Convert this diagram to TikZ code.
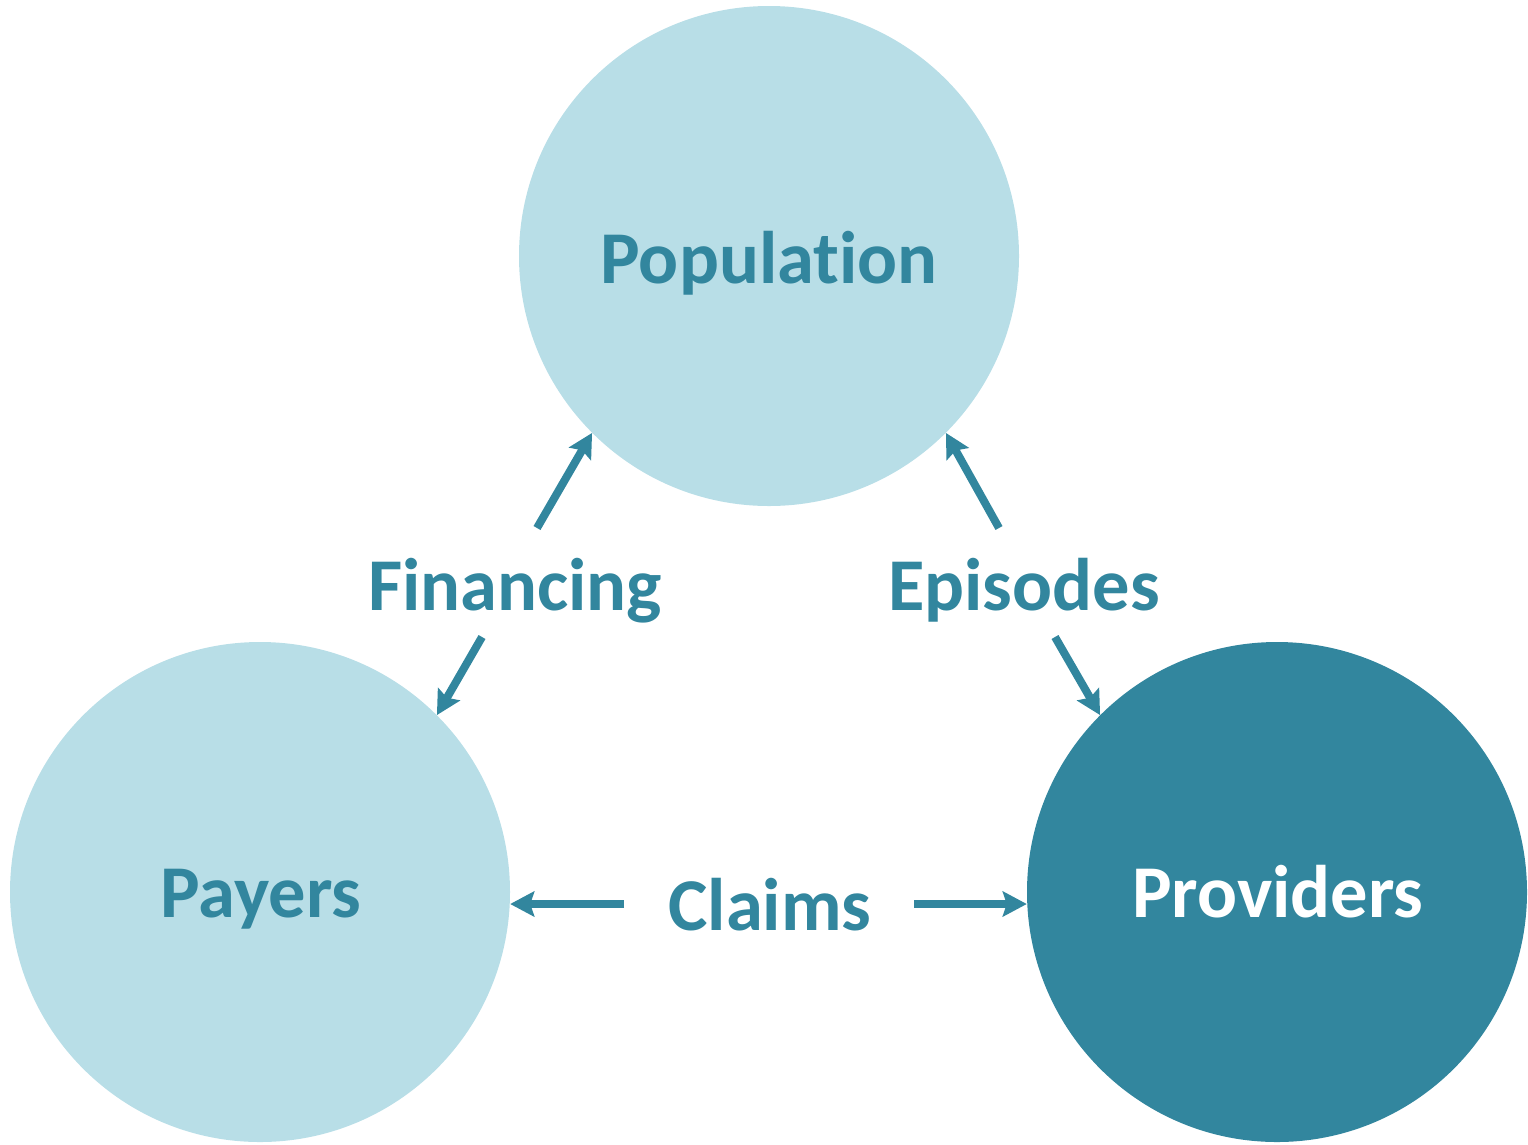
\documentclass[tikz,border=0pt]{standalone}
\usepackage{fontspec}
\setmainfont[RawFeature=-liga]{Carlito}
\usetikzlibrary{arrows.meta}
\definecolor{lightc}{RGB}{184,222,231}
\definecolor{darkc}{RGB}{50,134,158}
\tikzset{
  bubble/.style={circle, minimum size=500pt, inner sep=0pt, draw=none},
  lbl/.style={anchor=base, font=\fontsize{74.5}{78}\selectfont\bfseries, text=darkc, inner sep=0pt},
  conn/.style={draw=darkc, line width=8pt, -{Stealth[length=24pt, width=25pt, inset=4pt]}}
}
\begin{document}
\begin{tikzpicture}[x=1pt, y=-1pt]
\useasboundingbox (0,0) rectangle (1528,1144);
\node[bubble, fill=lightc] (pop) at (769,256) {};
\node[bubble, fill=lightc] (pay) at (260,892) {};
\node[bubble, fill=darkc] (prov) at (1277,892) {};
\node[lbl] (tpop) at (769,283) {Population};
\node[lbl] (tpay) at (261,917) {Payers};
\node[lbl, text=white] (tprov) at (1278,917) {Providers};
\node[lbl] (tfin) at (515,610) {Financing};
\node[lbl] (tepi) at (1024,610) {Episodes};
\node[lbl] (tcla) at (770,930) {Claims};
\coordinate (f1) at (537,528);
\coordinate (f2) at (482,637);
\coordinate (e1) at (999,528);
\coordinate (e2) at (1055,637);
\coordinate (c1) at (624,904);
\coordinate (c2) at (914,904);
\draw[conn] (f1) -- (pop.225);
\draw[conn] (f2) -- (pay.45);
\draw[conn] (e1) -- (pop.315);
\draw[conn] (e2) -- (prov.135);
\draw[conn] (c1) -- (pay.east |- c1);
\draw[conn] (c2) -- (prov.west |- c2);
\end{tikzpicture}
\end{document}
